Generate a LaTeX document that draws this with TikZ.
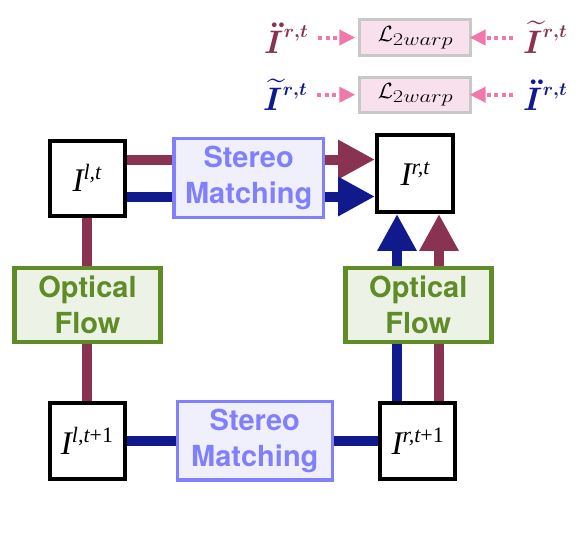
\RequirePackage{fix-cm}
\documentclass[tikz,border=0pt]{standalone}
\usepackage{amsmath,amssymb}
\usepackage{graphicx}
\usepackage{fontspec}
\newfontfamily\herosfont{TeX Gyre Heros}
\newfontfamily\tmsfont{Liberation Serif}
\usetikzlibrary{arrows.meta,backgrounds}
\definecolor{cMaroon}{RGB}{137,50,82}
\definecolor{cBlue}{RGB}{16,26,140}
\definecolor{cGreen}{RGB}{96,140,40}
\definecolor{cGreenFill}{RGB}{236,242,230}
\definecolor{cStereo}{RGB}{128,128,252}
\definecolor{cStereoFill}{RGB}{240,240,253}
\definecolor{cPink}{RGB}{240,120,170}
\definecolor{cLFill}{RGB}{248,224,236}
\definecolor{cLBorder}{RGB}{200,200,200}
\newcommand{\imlab}[1]{{\tmsfont\fontsize{33}{33}\selectfont\itshape I\raisebox{11.5pt}{\fontsize{22}{22}\selectfont #1}}}
\newcommand{\toplabel}[1]{{\fontsize{10}{10}\selectfont\scalebox{3.25}{$\boldsymbol{#1}$}\kern0.5pt\raisebox{15.5pt}{\scalebox{1.85}{$\boldsymbol{r{,}t}$}}}}
\newcommand{\losslabel}{{\fontsize{22}{22}\selectfont$\mathcal{L}$}\raisebox{-4.3pt}{\scalebox{1.25}[1]{\fontsize{18}{18}\selectfont$2warp$}}}
\begin{document}
\begin{tikzpicture}[x=1pt,y=-1pt,
  imgbox/.style={draw=black,line width=4pt,fill=white,minimum width=75pt,minimum height=75pt,inner sep=0pt},
  stereobox/.style={draw=cStereo,line width=3.3pt,fill=cStereoFill,text=cStereo,
    font=\herosfont\bfseries\fontsize{29}{36}\selectfont,align=center,inner sep=0pt},
  flowbox/.style={draw=cGreen,line width=4.5pt,fill=cGreenFill,text=cGreen,
    font=\herosfont\bfseries\fontsize{29}{36}\selectfont,align=center,inner sep=0pt,
    minimum width=146pt,minimum height=74pt},
  lossbox/.style={draw=cLBorder,line width=3pt,fill=cLFill,minimum width=111pt,minimum height=35.4pt,
    inner sep=0pt},
  toplab/.style={anchor=base,inner sep=0pt},
  fatline/.style={line width=10pt},
  bighead/.style={-{Triangle[length=37pt,width=37pt]}},
  dotarrow/.style={draw=cPink,line width=4pt,dash pattern=on 4pt off 3.5pt,
    -{Triangle[length=16pt,width=15pt]}}
]
\useasboundingbox (0,0) rectangle (583,555);

% image nodes
\node[imgbox] (Ilt)  at (87,178)    {\imlab{l,t}};
\node[imgbox,minimum width=76pt,minimum height=76.5pt] (Irt)  at (415,173.7) {\imlab{r,t}};
\node[imgbox,minimum height=75.7pt] (Ilt1) at (87,441)    {\imlab{l,t\upshape+1}};
\node[imgbox,minimum height=75.7pt] (Irt1) at (417.8,441) {\imlab{r,t\upshape+1}};

% processing boxes
\node[stereobox,minimum width=149.4pt,minimum height=79pt] (sm1) at (248.7,177.8) {Stereo\\Matching};
\node[stereobox,minimum width=155pt,minimum height=78.4pt] (sm2) at (254.8,440.8) {Stereo\\Matching};
\node[flowbox] (of1) at (87.5,305) {Optical\\Flow};
\node[flowbox] (of2) at (418.3,305) {Optical\\Flow};

% loss boxes and labels
\node[lossbox] (L1) at (415.3,37.5) {\losslabel};
\node[lossbox] (L2) at (415.3,94.7) {\losslabel};
\node[toplab,text=cMaroon] (a1) at (286,53.3)  {\toplabel{\ddot{I}}};
\node[toplab,text=cMaroon] (b1) at (545,53.3)  {\toplabel{\widetilde{I}}};
\node[toplab,text=cBlue]   (a2) at (285,110.5) {\toplabel{\widetilde{I}}};
\node[toplab,text=cBlue]   (b2) at (545,110.5) {\toplabel{\ddot{I}}};

\draw[dotarrow,shorten <=10pt,shorten >=3pt] (a1.east |- L1.west) -- (L1.west);
\draw[dotarrow,shorten <=10pt,shorten >=3pt] (a2.east |- L2.west) -- (L2.west);
\draw[dotarrow,shorten <=10pt,shorten >=-2.7pt] (b1.west |- L1.east) -- (L1.east);
\draw[dotarrow,shorten <=10pt,shorten >=-2.7pt] (b2.west |- L2.east) -- (L2.east);

\coordinate (ym) at (0,159.5);
\coordinate (yb) at (0,196.5);
\coordinate (xb) at (397,0);
\coordinate (xm) at (439,0);

\begin{pgfonlayer}{background}
  \draw[fatline,cMaroon,bighead] (Ilt.east |- ym) -- (Irt.west |- ym);
  \draw[fatline,cBlue,bighead] (Ilt.east |- yb) -- (Irt.west |- yb);
  \draw[fatline,cMaroon] (Ilt.south) -- (Ilt1.north);
  \draw[fatline,cBlue] (Ilt1.east) -- (Irt1.west);
  \draw[fatline,cBlue,bighead] (Irt1.north -| xb) -- (Irt.south -| xb);
  \draw[fatline,cMaroon,bighead] (Irt1.north -| xm) -- (Irt.south -| xm);
\end{pgfonlayer}
\end{tikzpicture}
\end{document}
